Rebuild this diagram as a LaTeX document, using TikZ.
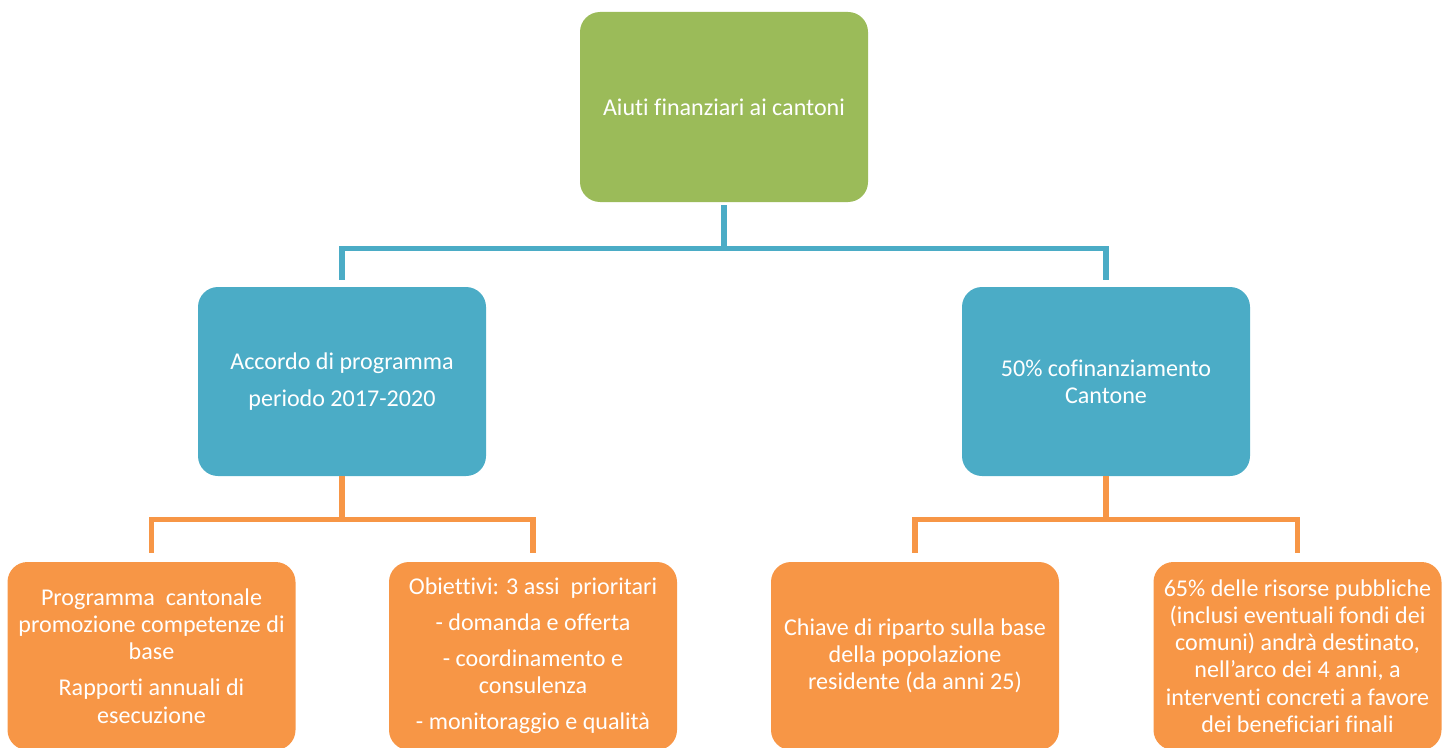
\documentclass[tikz,border=0pt]{standalone}
\usepackage{fontspec}
\setmainfont[RawFeature={-liga;-clig;-calt;-dlig}]{Carlito}
\definecolor{rootgreen}{HTML}{9BBB59}
\definecolor{midblue}{HTML}{4BACC6}
\definecolor{leaforange}{HTML}{F79646}
\begin{document}
\begin{tikzpicture}[
    box/.style = {rounded corners=0.4cm, minimum width=5.76cm, align=center,
                  text=white, font={\fontsize{13.7}{15.5}\selectfont}},
    rootbox/.style = {box, fill=rootgreen, minimum height=3.8cm},
    midbox/.style = {box, fill=midblue, minimum height=3.78cm},
    leafbox/.style = {box, fill=leaforange, minimum height=3.76cm},
    blueline/.style = {draw=midblue, line width=2.9pt},
    orangeline/.style = {draw=leaforange, line width=2.9pt}
]
    \useasboundingbox (0,0) rectangle (28.98,14.94);
    \node[rootbox] (aiuti) at (14.48,12.8) {Aiuti finanziari ai cantoni};
    \node[midbox] (accordo) at (6.84,7.31) {Accordo di programma\\[6pt] periodo 2017-2020};
    \node[midbox] (cofin) at (22.12,7.31) {50\% cofinanziamento\\ Cantone};
    \node[leafbox] (programma) at (3.03,1.82)
        {Programma\ \ cantonale\\ promozione competenze di\\ base\\[5pt] Rapporti annuali di\\ esecuzione};
    \node[leafbox] (obiettivi) at (10.66,1.82)
        {Obiettivi: 3 assi\ \ prioritari\\[5pt] - domanda e offerta\\[5pt] - coordinamento e\\ consulenza\\[5pt] - monitoraggio e qualità};
    \node[leafbox] (chiave) at (18.3,1.82)
        {Chiave di riparto sulla base\\ della popolazione\\ residente (da anni 25)};
    \node[leafbox] (risorse) at (25.95,1.82)
        {65\% delle risorse pubbliche\\ (inclusi eventuali fondi dei\\ comuni) andrà destinato,\\ nell’arco dei 4 anni, a\\ interventi concreti a favore\\ dei beneficiari finali};

    \draw[blueline] ([yshift=-0.06cm]aiuti.south) -- ++(0,-0.86) coordinate (bluebar)
        -| ([yshift=0.14cm]accordo.north);
    \draw[blueline] (bluebar) -| ([yshift=0.14cm]cofin.north);
    \draw[orangeline] (accordo.south) -- ++(0,-0.86) coordinate (leftbar)
        -| ([yshift=0.18cm]programma.north);
    \draw[orangeline] (leftbar) -| ([yshift=0.18cm]obiettivi.north);
    \draw[orangeline] (cofin.south) -- ++(0,-0.86) coordinate (rightbar)
        -| ([yshift=0.18cm]chiave.north);
    \draw[orangeline] (rightbar) -| ([yshift=0.18cm]risorse.north);
\end{tikzpicture}
\end{document}
